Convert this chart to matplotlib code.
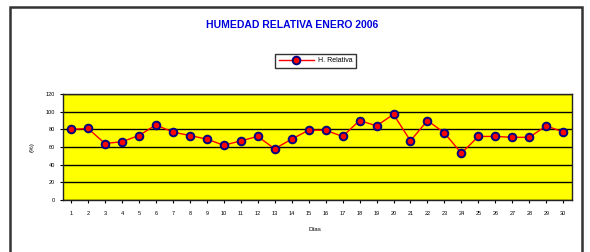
import matplotlib
matplotlib.use("Agg")
import matplotlib.pyplot as plt
from matplotlib.patches import Rectangle

# ----------------------------------------------------------------------
# Data
# ----------------------------------------------------------------------
dias = [str(d) for d in range(1, 31)]
humedad = [80, 81, 64, 66, 73, 85, 77, 73, 69, 62,
           67, 72, 58, 69, 79, 79, 72, 90, 84, 97,
           67, 90, 76, 53, 72, 72, 71, 71, 84, 77]
y_ticks = [0, 20, 40, 60, 80, 100, 120]

titulo = "HUMEDAD RELATIVA ENERO 2006"
serie = "H. Relativa"

plt.rcParams["font.family"] = ["Liberation Sans", "DejaVu Sans"]

fig = plt.figure(figsize=(5.9, 2.52), dpi=100)
ax = fig.add_axes([0.106, 0.206, 0.863, 0.421])

# outer chart frame (bottom edge is cut off in the original)
fig.patches.append(Rectangle((0.017, -0.1), 0.969, 1.072, transform=fig.transFigure,
                             fill=False, edgecolor="#333333", linewidth=1.8))

ax.set_facecolor("#FFFF00")
x = range(len(dias))
ax.plot(x, humedad, color="red", linewidth=1.0, marker="o", markersize=5.5,
        markerfacecolor="red", markeredgecolor="#000080", markeredgewidth=1.4,
        label=serie, zorder=3)

ax.set_xlim(-0.5, len(dias) - 0.5)
ax.set_ylim(0, 120)
ax.set_yticks(y_ticks)
ax.set_xticks(list(x))
ax.set_xticklabels(dias)
ax.yaxis.grid(True, color="black", linewidth=1.0)
ax.set_axisbelow(True)
for s in ax.spines.values():
    s.set_color("#222222")
    s.set_linewidth(1.0)

ax.tick_params(axis="both", direction="out", length=2.5, width=0.8, labelsize=4, pad=3)
ax.tick_params(axis="x", pad=5)

ax.set_ylabel("(%)", fontsize=4.5, labelpad=8)
ax.set_xlabel("Días", fontsize=4.5)
ax.xaxis.set_label_coords(0.496, -0.25)

fig.text(0.495, 0.9, titulo, ha="center", va="center", color="#0000DD",
         fontsize=7.5, fontweight="bold")

leg = fig.legend(loc="center", bbox_to_anchor=(0.535, 0.758), fontsize=5,
                 frameon=True, fancybox=False, handlelength=5,
                 borderpad=0.5, handletextpad=0.6)
leg.get_frame().set_edgecolor("black")
leg.get_frame().set_linewidth(1.0)

fig.savefig("out.png", dpi=100)
